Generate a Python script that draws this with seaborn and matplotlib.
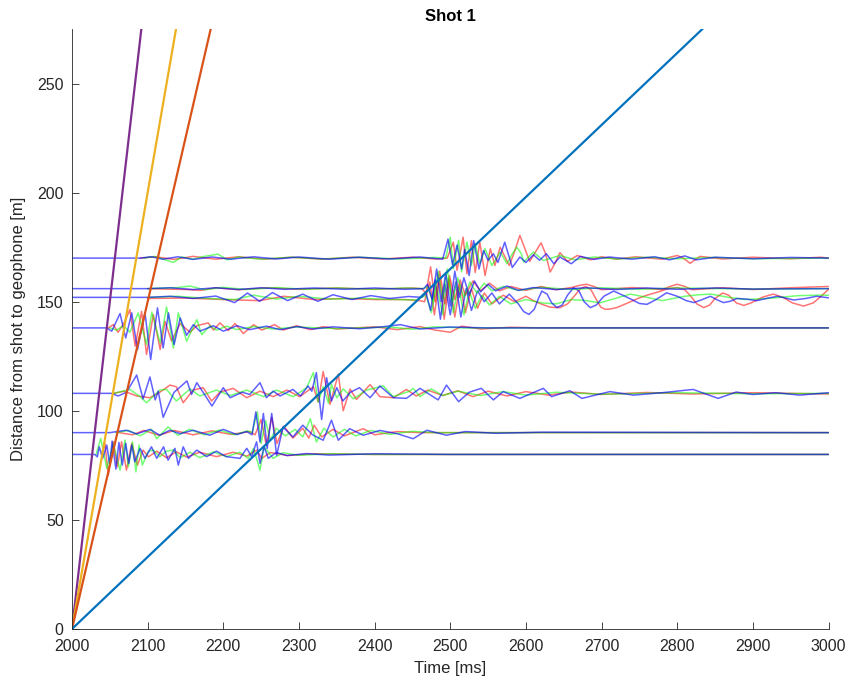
import matplotlib
matplotlib.use("Agg")
import matplotlib.pyplot as plt
import seaborn as sns

# ---------------- data ----------------
x_ticks = [2000, 2100, 2200, 2300, 2400, 2500, 2600, 2700, 2800, 2900, 3000]
y_ticks = [0, 50, 100, 150, 200, 250]
offsets = [80, 90, 108, 138, 152, 156, 170]

# straight travel-time lines: distance [m] vs time [ms]
line_dist = [0, 300]
line_t_3000 = [2000, 2100]
line_t_2000 = [2000, 2150]
line_t_1500 = [2000, 2200]
line_t_330 = [2000, 2909]

# geophone traces: (time ms, amplitude m)
tr80_blue = [(2000,0),(2030,0),(2033.5,-1.1),(2036,3.5),(2040.5,-1.8),(2046,4.3),(2050,-4.9),(2053,6.1),(2058,-6.7),(2062,5.5),(2066.5,-4.9),(2071,5.1),(2075,-4.1),(2079,4.3),(2083,-3.4),(2090,2.8),(2096.5,-1.8),(2105,3.5),(2112,-1.8),(2121,3.5),(2127,-2.6),(2136,2.8),(2140.5,-4.9),(2147,3.5),(2154,-1.8),(2165,2.0),(2178,-1.0),(2191,1.5),(2204,-1.0),(2222,-1.8),(2231,2.8),(2237.5,-1.0),(2244,5.8),(2248.5,-4.1),(2254,3.5),(2259.5,-1.8),(2270,0.9),(2284,-0.5),(2310,0.4),(2340,-0.3),(2400,0.3),(2500,0),(3000,0)]
tr80_green = [(2032,0),(2038,7.3),(2046,-6.4),(2054.5,5.1),(2063.5,-7.2),(2070,6.6),(2074.5,-5.7),(2080,5.8),(2084.5,-8.0),(2088.5,4.3),(2093,-4.9),(2101,1.5),(2107.5,2.0),(2116,-1.1),(2125,1.5),(2134,2.0),(2143,-1.5),(2156,1.0),(2169,-1.5),(2187,1.2),(2204,-1.0),(2222,1.0),(2233,-1.8),(2240,2.8),(2248.5,-7.2),(2254,3.5),(2266,-1.8),(2279,0.8),(2300,-0.4),(2340,0.3),(2400,0),(3000,0)]
tr80_red = [(2039,0),(2043.5,5.1),(2048,-9.5),(2054.5,5.8),(2060,-5.7),(2065.5,5.8),(2072,-7.2),(2079,5.1),(2086.5,-4.9),(2094,2.0),(2101,-1.1),(2112,1.5),(2125,-1.5),(2138,1.2),(2151.5,-1.2),(2169,1.0),(2191,-1.0),(2213,1.0),(2231,-0.8),(2244,2.0),(2251,-1.8),(2262,0.9),(2285,-0.5),(2320,0.3),(2400,0),(3000,0)]

tr90_blue = [(2000,0),(2050,0),(2060,0.5),(2072,1.1),(2085.5,-0.6),(2103,1.5),(2116,-1.2),(2129.5,1.1),(2143,-0.5),(2160,1.1),(2182,-1.2),(2200,1.5),(2218,-0.9),(2231,0.5),(2238,-1.0),(2243,9.5),(2248.5,-4.3),(2253,8.8),(2258,-7.3),(2264,8.8),(2270.5,-10.4),(2279,2.6),(2292,-2.0),(2305,3.4),(2318,-1.0),(2332,-3.5),(2343,5.7),(2352,-3.5),(2367,1.8),(2385,-1.2),(2407,1.0),(2430,-0.5),(2451,-2.8),(2469,1.1),(2495,-1.2),(2520,0.5),(2560,-0.3),(2620,0.2),(3000,0)]
tr90_green = [(2058,0),(2075,1.0),(2090,-1.5),(2105,1.5),(2112,-2.8),(2127,2.6),(2140,-1.2),(2155,1.5),(2175,-1.0),(2195,1.2),(2215,-1.0),(2232,0.8),(2238,0),(2245,9.5),(2250,-5.0),(2256,5.5),(2262,-3.5),(2270,2.0),(2282,-1.5),(2295,1.5),(2305,-2.0),(2315,6.4),(2323,-4.3),(2333,2.0),(2345,-2.0),(2360,1.5),(2375,-1.5),(2395,1.0),(2420,-0.8),(2450,0.6),(2480,0),(3000,0)]
tr90_red = [(2062,0),(2080,-1.0),(2095,1.0),(2115,-1.2),(2135,1.0),(2160,-1.0),(2185,0.8),(2210,-0.8),(2235,0.5),(2242,-1.0),(2250,6.0),(2257,-6.0),(2264,7.0),(2271,-5.0),(2280,3.0),(2292,-2.5),(2305,2.0),(2313,-2.5),(2320,3.4),(2330,-2.0),(2345,1.5),(2360,-1.5),(2385,1.8),(2400,-1.0),(2430,0.5),(2460,0),(3000,0)]

tr108_blue = [(2000,0),(2052,0),(2061,-1.2),(2072,0.5),(2085.5,8.4),(2094,-2.5),(2103,7.5),(2110,-3.0),(2114,1.0),(2120.5,-11.0),(2135,0.5),(2152,5.7),(2158,-0.5),(2165,4.9),(2185,-5.8),(2200,2.6),(2209,-2.0),(2225,0.5),(2235,-0.5),(2248.5,4.9),(2257,-2.0),(2266,1.0),(2275,-1.2),(2292,1.8),(2302,-1.2),(2312,3.4),(2317,1.0),(2323,9.5),(2330,-12.0),(2336.5,7.2),(2343,-3.5),(2350,2.6),(2358,-3.5),(2368,0.5),(2380,2.6),(2394,-2.0),(2407,3.4),(2425,-2.0),(2442,-2.3),(2460,2.3),(2484,-3.0),(2495,3.8),(2511,-3.8),(2525,0.5),(2541,2.3),(2557,-3.0),(2570,0.8),(2592,-2.3),(2623,2.3),(2634,-1.5),(2658,1.2),(2674,-2.3),(2711,0.8),(2742,-0.8),(2780,0.3),(2821,1.8),(2854,-2.3),(2878,0.6),(2900,-0.5),(2930,0.3),(2962,-0.8),(3000,0.3)]
tr108_red = [(2055,0),(2069,1.0),(2085.5,-1.2),(2103,-2.0),(2116,0.5),(2129.5,3.8),(2138,3.0),(2147,-4.3),(2160,1.5),(2173.5,2.6),(2184.5,-3.5),(2195.5,0.5),(2213,2.3),(2231,-2.0),(2248.5,1.0),(2266,-1.5),(2284,1.5),(2301,-1.5),(2319,3.0),(2325.5,-4.0),(2332,10.0),(2341,-5.0),(2352,8.8),(2358.5,-8.0),(2367.5,2.0),(2376,-2.8),(2394,4.0),(2407,-1.5),(2425,-2.0),(2442,1.8),(2455,-1.2),(2470,1.5),(2490,-1.0),(2510,1.2),(2530,-1.5),(2550,1.0),(2575,-1.2),(2600,0.8),(2630,-0.8),(2660,0.6),(2700,-0.5),(2760,0.4),(2820,-0.3),(2900,0.3),(3000,-0.3)]
tr108_green = [(2055,0),(2076.5,1.8),(2090,-1.5),(2098.5,-4.3),(2116,1.5),(2125,1.8),(2138,-3.5),(2156,2.0),(2169,-1.2),(2191,1.5),(2209,-1.0),(2231,1.5),(2253,-1.5),(2270.5,1.5),(2292.5,-1.5),(2310,2.5),(2319,9.5),(2325.5,-4.0),(2332,3.0),(2339,-4.5),(2343,4.0),(2350,-2.0),(2358.5,2.0),(2372,-2.5),(2389.5,1.5),(2411.5,3.4),(2424.5,-1.5),(2446.5,1.0),(2451,2.3),(2460,-1.5),(2475,2.0),(2490,-1.0),(2510,1.0),(2540,-1.0),(2570,0.8),(2600,-0.8),(2640,0.5),(2700,-0.4),(2800,0.3),(2900,-0.2),(3000,0)]

tr138_blue = [(2000,0),(2046,0),(2052.5,-1.5),(2063.5,6.6),(2071,-4.6),(2079,6.9),(2086.5,-10.0),(2096.5,6.9),(2104,-14.5),(2113,9.2),(2120.5,-9.2),(2127.5,6.9),(2135,-7.6),(2143,4.6),(2151.5,-3.4),(2160.5,1.5),(2169,-1.5),(2187,1.0),(2200,-1.5),(2218,1.0),(2235,-0.8),(2257,0.8),(2275,-0.8),(2297,0.6),(2319,-0.5),(2345,0.5),(2380,-0.4),(2410,0.5),(2434,1.5),(2460,-0.5),(2500,0.4),(2550,0),(3000,0)]
tr138_red = [(2048,0),(2054.5,1.5),(2061,-2.0),(2070,3.0),(2076.5,8.4),(2083.5,-8.4),(2092,7.6),(2098.5,-12.2),(2107.5,6.1),(2116.5,-9.9),(2123,3.0),(2131.5,-6.0),(2143,2.0),(2156,-2.0),(2165,1.0),(2180,2.3),(2187,-1.0),(2195.5,2.3),(2206.5,-1.2),(2215.5,2.0),(2226.5,-2.6),(2240,1.5),(2251,-1.0),(2268,1.5),(2279,-1.0),(2297,1.0),(2315,-0.8),(2332,0.6),(2350,-0.5),(2400,0.5),(2430,-0.8),(2460,0.6),(2480,-1.0),(2500,-2.0),(2515,0.8),(2540,-0.5),(2580,0.3),(2620,0),(3000,0)]
tr138_green = [(2050,0),(2059,-1.0),(2068,1.0),(2076.5,-2.0),(2087.5,6.9),(2098.5,-7.6),(2105.5,7.2),(2116.5,-6.9),(2125,9.6),(2134,-9.2),(2140.5,6.9),(2151.5,-6.1),(2165,3.8),(2171.5,-3.1),(2182.5,1.0),(2191,-1.0),(2204.5,0.8),(2217.5,-0.8),(2240,0.6),(2266,-0.5),(2297,0.4),(2350,-0.3),(2420,0.4),(2450,-0.6),(2480,0.5),(2520,0),(3000,0)]

tr152_blue = [(2000,0),(2100,0),(2130,0.5),(2160,-0.5),(2190,0.6),(2215,-2.4),(2232,2.0),(2248,-1.8),(2265,2.2),(2285,-1.5),(2305,1.5),(2325,-1.8),(2345,1.2),(2370,-1.0),(2395,0.8),(2420,-0.5),(2445,0.4),(2462,0),(2468,2.0),(2474,-6.0),(2480,8.0),(2487,-10.0),(2493,6.0),(2500,-8.0),(2507,7.0),(2514,-9.0),(2521,4.0),(2528,-6.0),(2536,3.0),(2545,-2.0),(2555,2.0),(2565,-3.0),(2578,1.5),(2590,-3.0),(2597,-6.5),(2604,-7.8),(2611,-5.5),(2616,-1.0),(2621,2.9),(2628,1.5),(2634,-2.5),(2641,-4.7),(2648,-3.5),(2655,1.0),(2663,4.4),(2670,3.0),(2677,-2.0),(2685,-4.7),(2693,-3.5),(2703,0.5),(2716,2.9),(2728,1.0),(2740,-1.0),(2750,-2.8),(2760,-3.2),(2772,-1.0),(2786,2.1),(2800,0.5),(2812,-1.5),(2822,-2.4),(2833,-1.0),(2844,0.5),(2852,-1.0),(2861,-2.4),(2870,-1.8),(2879,-0.5),(2892,-0.8),(2905,-1.5),(2918,-0.5),(2932,0.5),(2943,-0.3),(2954,-1.2),(2970,-0.5),(2984,0.5),(3000,-0.2)]
tr152_red = [(2100,-0.5),(2150,-0.3),(2200,-1.0),(2248,-1.5),(2280,0.5),(2320,-1.0),(2360,-0.5),(2400,-1.0),(2440,-1.0),(2460,-1.5),(2466,-2.0),(2473,7.0),(2479,-8.0),(2486,9.0),(2492,-10.0),(2499,8.0),(2506,-9.0),(2513,6.0),(2520,-7.0),(2528,4.0),(2536,-5.0),(2545,2.0),(2555,-3.0),(2570,1.0),(2585,-2.0),(2600,0.5),(2610,-1.5),(2620,-3.0),(2632,-4.5),(2645,-4.7),(2655,-3.0),(2665,1.0),(2672,4.0),(2679,5.0),(2686,3.5),(2693,-1.0),(2699,-4.5),(2705,-5.5),(2712,-5.3),(2720,-4.7),(2735,-2.5),(2748,-0.5),(2760,1.0),(2775,2.5),(2788,4.0),(2800,4.5),(2810,3.5),(2818,0.5),(2826,-3.0),(2835,-4.7),(2843,-3.5),(2850,-0.5),(2860,2.0),(2868,1.0),(2878,-2.5),(2888,-3.7),(2898,-2.5),(2912,0),(2927,1.5),(2940,0),(2952,-2.5),(2967,-4.0),(2980,-2.5),(2990,0.5),(3000,3.7)]
tr152_green = [(2100,0),(2140,0.5),(2180,-0.5),(2215,-1.0),(2240,1.0),(2270,-0.8),(2300,0.5),(2340,-0.8),(2380,-0.4),(2420,-0.9),(2455,-1.2),(2468,1.0),(2475,-7.0),(2482,5.0),(2490,-8.0),(2497,9.0),(2504,-7.0),(2511,5.0),(2518,-8.0),(2525,3.0),(2533,-5.0),(2542,1.0),(2552,-3.5),(2565,0.5),(2580,-3.0),(2600,-1.0),(2620,-2.5),(2640,-3.0),(2660,-1.0),(2680,-1.5),(2698,-2.5),(2718,-0.5),(2738,1.5),(2760,0),(2780,-1.5),(2795,-0.5),(2810,0.5),(2828,1.2),(2845,1.5),(2868,0),(2890,-1.0),(2920,-0.5),(2960,0.8),(2985,1.0),(3000,1.0)]

tr156_blue = [(2000,0),(2100,0),(2130,0.4),(2160,-0.4),(2190,0.4),(2220,-0.4),(2250,0.4),(2280,-0.3),(2320,0.3),(2360,-0.3),(2400,0.3),(2440,-0.3),(2465,0),(2470,2.0),(2476,-5.0),(2482,9.0),(2488,-6.0),(2494,7.0),(2500,-8.0),(2506,8.0),(2512,-4.0),(2518,5.0),(2525,-3.0),(2532,3.5),(2540,-1.5),(2550,2.0),(2560,-1.0),(2575,1.2),(2590,-0.8),(2610,0.5),(2640,-0.4),(2680,0.4),(2720,-0.4),(2760,0.3),(2800,-0.3),(2850,0.3),(2900,-0.2),(3000,0)]
tr156_red = [(2100,0),(2150,-0.4),(2170,-0.8),(2190,0.4),(2220,-0.5),(2260,0.4),(2300,-0.3),(2350,0.3),(2400,-0.3),(2450,0.3),(2462,0),(2468,-2.0),(2474,10.0),(2480,-6.0),(2486,8.0),(2493,-7.0),(2499,6.0),(2506,-5.0),(2513,4.0),(2520,-3.0),(2530,3.5),(2540,-1.0),(2552,2.5),(2565,-1.0),(2580,1.0),(2600,-0.8),(2620,1.0),(2640,-0.5),(2660,0.5),(2672,1.6),(2680,2.0),(2690,1.0),(2700,-0.5),(2740,0.5),(2780,-0.4),(2792,1.2),(2800,2.0),(2810,1.0),(2820,-0.5),(2860,0.4),(2900,-0.4),(2950,0.4),(3000,1.0)]
tr156_green = [(2100,0),(2140,0.5),(2156,1.2),(2175,-0.5),(2200,0.6),(2230,-0.4),(2270,0.5),(2310,-0.3),(2350,0.3),(2400,-0.3),(2440,0.3),(2464,0),(2470,1.0),(2477,-6.0),(2484,8.0),(2490,-5.0),(2496,9.0),(2503,-6.0),(2510,5.0),(2518,-4.0),(2526,3.0),(2535,-2.0),(2545,2.5),(2555,-1.0),(2570,1.0),(2590,-0.8),(2620,0.6),(2660,-0.4),(2700,0.4),(2750,-0.3),(2800,0.3),(2900,-0.2),(3000,0)]

tr170_blue = [(2000,0),(2090,0),(2105,0.6),(2120,-0.5),(2140,0.6),(2160,-0.6),(2185,0.5),(2210,-0.5),(2240,0.6),(2270,-0.4),(2300,0.5),(2340,-0.5),(2380,0.4),(2420,-0.4),(2460,0.5),(2490,-0.5),(2497,8.7),(2503,-3.0),(2509,6.0),(2515,-5.0),(2519,4.0),(2525,-8.0),(2531,8.0),(2538,-5.0),(2544,3.5),(2550,-1.0),(2557,2.0),(2563,-2.0),(2572,7.3),(2582,-4.3),(2592,0.5),(2600,-2.0),(2610,1.5),(2618,-1.0),(2627,2.0),(2637,-2.6),(2645,0.5),(2660,-2.6),(2672,0.8),(2690,-0.6),(2710,0.5),(2740,-0.5),(2770,0.6),(2790,-0.8),(2810,1.0),(2825,-0.8),(2850,0.4),(2900,-0.3),(2950,0.3),(3000,0)]
tr170_red = [(2090,0),(2110,0.6),(2135,-0.6),(2160,0.8),(2190,-0.5),(2220,0.6),(2255,-0.5),(2290,0.4),(2330,-0.5),(2370,0.4),(2410,-0.4),(2450,0.4),(2480,-0.4),(2496,0),(2504,7.3),(2509,-5.6),(2517,9.6),(2522,-7.2),(2528,8.0),(2533,-6.6),(2539,7.3),(2546,-8.0),(2553,4.3),(2559,-3.4),(2566,5.0),(2578,-3.4),(2585,3.0),(2592,10.4),(2599,4.0),(2605,-1.5),(2613,3.0),(2620,7.0),(2626,2.0),(2632,-6.4),(2639,-2.0),(2645,2.5),(2655,-1.5),(2668,1.2),(2685,-0.8),(2700,0.6),(2720,-0.5),(2745,0.6),(2780,-0.5),(2800,1.2),(2808,0),(2817,-2.4),(2830,0.8),(2860,-0.4),(2900,0.4),(2950,-0.3),(2990,0.4),(3000,0)]
tr170_green = [(2095,0),(2110,0.8),(2125,-1.0),(2134,-2.0),(2145,0.5),(2160,-0.5),(2175,0.8),(2193,1.8),(2205,-0.8),(2220,0.5),(2250,-0.5),(2290,0.4),(2330,-0.4),(2380,0.4),(2430,-0.4),(2480,0.3),(2494,0),(2500,9.6),(2504,-4.9),(2511,8.1),(2515,-6.3),(2522,7.3),(2528,-3.4),(2533,6.6),(2539,-2.6),(2546,4.3),(2555,-3.4),(2566,2.8),(2575,-2.6),(2582,2.0),(2588,5.0),(2594,2.0),(2597,-1.8),(2610,2.8),(2623,-1.1),(2645,1.2),(2665,-0.8),(2690,0.5),(2720,-0.4),(2760,0.4),(2800,-0.3),(2850,0.3),(2900,-0.3),(3000,0)]

# ---------------- figure ----------------
sns.set_theme(style="white")
plt.rcParams["font.family"] = ["Liberation Sans", "DejaVu Sans"]

fig = plt.figure(figsize=(8.51, 6.88), dpi=100)
ax = fig.add_axes([0.0846, 0.0858, 0.8890, 0.8720])

traces = {
    80: (tr80_red, tr80_green, tr80_blue),
    90: (tr90_red, tr90_green, tr90_blue),
    108: (tr108_red, tr108_green, tr108_blue),
    138: (tr138_red, tr138_green, tr138_blue),
    152: (tr152_red, tr152_green, tr152_blue),
    156: (tr156_red, tr156_green, tr156_blue),
    170: (tr170_red, tr170_green, tr170_blue),
}
comp_colors = ["#ff0000", "#00ff00", "#0000ff"]
comp_alpha = [0.55, 0.55, 0.62]

for off in offsets:
    for pts, col, al in zip(traces[off], comp_colors, comp_alpha):
        t = [p[0] for p in pts]
        a = [off + p[1] for p in pts]
        sns.lineplot(x=t, y=a, ax=ax, color=col, alpha=al, lw=1.1,
                     sort=False, estimator=None)

for lt, col in [(line_t_3000, "#7E2F8E"), (line_t_2000, "#EDB120"),
                (line_t_1500, "#D95319"), (line_t_330, "#0072BD")]:
    sns.lineplot(x=lt, y=line_dist, ax=ax, color=col, lw=1.6,
                 sort=False, estimator=None)

ax.set_xlim(2000, 3000)
ax.set_ylim(0, 275)
ax.set_xticks(x_ticks)
ax.set_yticks(y_ticks)
ax.set_xlabel("Time [ms]", fontsize=12, color="#262626", labelpad=5)
ax.set_ylabel("Distance from shot to geophone [m]", fontsize=12, color="#262626", labelpad=8)
ax.set_title("Shot 1", fontsize=12, fontweight="bold", color="black", pad=6)

for s in ["top", "right"]:
    ax.spines[s].set_visible(False)
for s in ["left", "bottom"]:
    ax.spines[s].set_color("#262626")
    ax.spines[s].set_linewidth(0.6)
ax.tick_params(direction="in", length=5, width=0.6, colors="#262626",
               labelsize=11.5, bottom=True, left=True)
ax.tick_params(axis="x", pad=7)
ax.tick_params(axis="y", pad=6)
ax.grid(False)

fig.savefig("out.png", dpi=100)
